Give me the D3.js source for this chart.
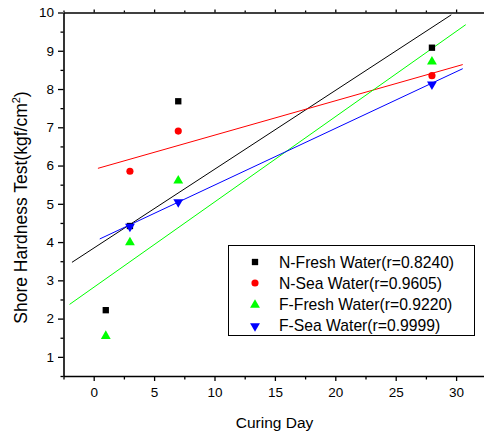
<!DOCTYPE html>
<html>
<head>
<meta charset="utf-8">
<script src="https://cdn.jsdelivr.net/npm/d3@7"></script>
<style>
  html, body { margin: 0; padding: 0; background: #fff; }
  svg { display: block; font-family: "Liberation Sans", Arial, sans-serif; }
</style>
</head>
<body>
<svg id="chart" width="484" height="433"></svg>
<script>
// Curing day of each measurement
const days = [1, 3, 7, 28];

// Shore hardness per series (null = no reading)
const nFresh = [2.22, 4.42, 7.68, 9.08];
const nSea   = [null, 5.85, 6.90, 8.35];
const fFresh = [1.57, 4.02, 5.63, 8.74];
const fSea   = [null, 4.43, 5.07, 8.15];

const seriesNames = [
  "N-Fresh Water(r=0.8240)",
  "N-Sea Water(r=0.9605)",
  "F-Fresh Water(r=0.9220)",
  "F-Sea Water(r=0.9999)"
];

// x span over which each regression line is drawn
const fitStart = [-1.8, 0.35, -2.0, 0.5];
const fitEnd   = [29.6, 30.55, 30.8, 30.55];

const xTicks = [0, 5, 10, 15, 20, 25, 30];
const yTicks = [1, 2, 3, 4, 5, 6, 7, 8, 9, 10];

const colors = ["#000000", "#ff0000", "#00ff00", "#0000ff"];
const symbols = ["square", "circle", "triangle", "triangleDown"];
const allValues = [nFresh, nSea, fFresh, fSea];

const svg = d3.select("#chart");

const plotLeft = 63.5, plotTop = 12.5, plotBottom = 376;
const x = d3.scaleLinear().domain([-2.5, 32.5]).range([plotLeft, plotLeft + 35 * 12.08]);
const y = d3.scaleLinear().domain([0.5, 10]).range([plotBottom, plotTop]);

// clip for fit lines
svg.append("clipPath").attr("id", "plotClip")
  .append("rect")
  .attr("x", x(-2.5)).attr("y", y(10))
  .attr("width", x(32.5) - x(-2.5)).attr("height", y(0.5) - y(10));

// least-squares fit of one series
function linFit(xs, ys) {
  const pts = xs.map((d, i) => [d, ys[i]]).filter(p => p[1] != null);
  const mx = d3.mean(pts, p => p[0]), my = d3.mean(pts, p => p[1]);
  const sxy = d3.sum(pts, p => (p[0] - mx) * (p[1] - my));
  const sxx = d3.sum(pts, p => (p[0] - mx) ** 2);
  const b = sxy / sxx;
  return { slope: b, intercept: my - b * mx };
}

// regression lines
const lineGen = d3.line().x(d => x(d[0])).y(d => y(d[1]));
const fitG = svg.append("g").attr("clip-path", "url(#plotClip)");
allValues.forEach((vals, i) => {
  const f = linFit(days, vals);
  const pts = [fitStart[i], fitEnd[i]].map(d => [d, f.intercept + f.slope * d]);
  fitG.append("path")
    .attr("d", lineGen(pts))
    .attr("fill", "none")
    .attr("stroke", colors[i])
    .attr("stroke-width", 1);
});

// marker shapes
function symbolPath(kind) {
  if (kind === "square") return d3.symbol(d3.symbolSquare, 40)();
  if (kind === "circle") return d3.symbol(d3.symbolCircle, 40)();
  return d3.symbol(d3.symbolTriangle, 42)();
}
function markerTransform(kind, cx, cy) {
  if (kind === "triangleDown") return `translate(${cx},${cy + 1}) rotate(180)`;
  if (kind === "triangle") return `translate(${cx},${cy + 1})`;
  return `translate(${cx},${cy})`;
}

const markG = svg.append("g");
allValues.forEach((vals, i) => {
  vals.forEach((v, j) => {
    if (v == null) return;
    markG.append("path")
      .attr("d", symbolPath(symbols[i]))
      .attr("transform", markerTransform(symbols[i], x(days[j]), y(v)))
      .attr("fill", colors[i]);
  });
});

// axes
const minorX = d3.range(-2.5, 32.6, 2.5).filter(d => !xTicks.includes(d));
const minorY = d3.range(0.5, 10.01, 0.5).filter(d => !yTicks.includes(d));

function styleAxis(g) {
  g.selectAll(".domain").attr("stroke", "#000").attr("stroke-width", 1.6);
  g.selectAll(".tick line").attr("stroke", "#000").attr("stroke-width", 1.3);
  g.selectAll(".tick text").attr("fill", "#000").attr("font-size", 13.5)
    .attr("font-family", "'Liberation Sans', Arial, sans-serif");
}

// bottom
svg.append("g").attr("transform", `translate(0,${plotBottom})`)
  .call(d3.axisBottom(x).tickValues(xTicks).tickSize(5).tickPadding(6).tickSizeOuter(0))
  .call(styleAxis);
svg.append("g").attr("transform", `translate(0,${plotBottom})`)
  .call(d3.axisBottom(x).tickValues(minorX).tickSize(3.5).tickFormat("").tickSizeOuter(0))
  .call(g => g.select(".domain").remove())
  .call(styleAxis);

// top
svg.append("g").attr("transform", `translate(0,${plotTop})`)
  .call(d3.axisTop(x).tickValues(xTicks).tickSize(3).tickFormat("").tickSizeOuter(0))
  .call(styleAxis);
svg.append("g").attr("transform", `translate(0,${plotTop})`)
  .call(d3.axisTop(x).tickValues(minorX).tickSize(2).tickFormat("").tickSizeOuter(0))
  .call(g => g.select(".domain").remove())
  .call(styleAxis);

// left
svg.append("g").attr("transform", `translate(${plotLeft},0)`)
  .call(d3.axisLeft(y).tickValues(yTicks).tickSize(5.5).tickPadding(4).tickSizeOuter(0))
  .call(styleAxis);
svg.append("g").attr("transform", `translate(${plotLeft},0)`)
  .call(d3.axisLeft(y).tickValues(minorY).tickSize(3).tickFormat("").tickSizeOuter(0))
  .call(g => g.select(".domain").remove())
  .call(styleAxis);

// axis titles
svg.append("text")
  .attr("x", 274.5).attr("y", 427.5)
  .attr("text-anchor", "middle")
  .attr("font-size", 15.5)
  .attr("fill", "#000")
  .text("Curing Day");

const yTitle = svg.append("text")
  .attr("transform", "translate(27,207.5) rotate(-90)")
  .attr("text-anchor", "middle")
  .attr("font-size", 17.5)
  .attr("fill", "#000");
yTitle.append("tspan").text("Shore Hardness Test(kgf/cm");
yTitle.append("tspan").attr("font-size", 11).attr("dy", -7).text("2");
yTitle.append("tspan").attr("dy", 7).text(")");

// legend
const lg = svg.append("g");
lg.append("rect")
  .attr("x", 228.5).attr("y", 245.5)
  .attr("width", 246).attr("height", 90)
  .attr("fill", "#fff").attr("stroke", "#000").attr("stroke-width", 1);
seriesNames.forEach((name, i) => {
  const cy = 262 + i * 21;
  lg.append("path")
    .attr("d", symbolPath(symbols[i]))
    .attr("transform", markerTransform(symbols[i], 255, cy))
    .attr("fill", colors[i]);
  lg.append("text")
    .attr("x", 279).attr("y", cy + 5.5)
    .attr("font-size", 15.7)
    .attr("fill", "#000")
    .text(name);
});
</script>
</body>
</html>
